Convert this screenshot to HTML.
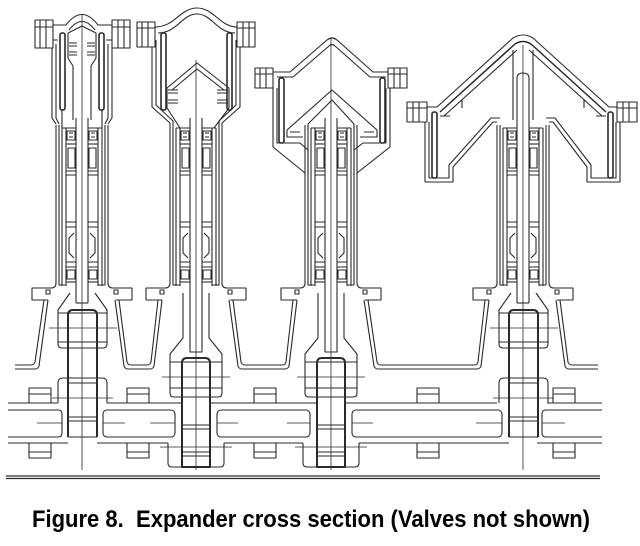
<!DOCTYPE html>
<html><head><meta charset="utf-8">
<style>html,body{margin:0;padding:0;background:#fff;width:640px;height:546px;overflow:hidden}svg{display:block}</style>
</head><body>
<svg width="640" height="546" viewBox="0 0 640 546" xmlns="http://www.w3.org/2000/svg">
<defs>
<g id="rg">
 <rect x="-15" y="131" width="8" height="9"/>
 <path d="M-13,133 H-9 M-13,137 H-9"/>
 <path d="M-16,144 H-6"/>
 <rect x="-14" y="148" width="7" height="20"/>
 <path d="M-16,171 H-6 M-16,175 H-6"/>
 <path d="M-16,222 H-6 M-16,227 H-6"/>
 <path d="M-8,233 L-13,238 V253 L-8,258"/>
 <path d="M-16,262 H-6 M-16,267 H-6"/>
 <rect x="-15" y="270" width="8" height="9"/>
 <path d="M-16,282 H-6"/>
 <path d="M-26,125 V283 Q-26,288 -31,288 H-50 V300 H-34"/>
 <path d="M-23,125 V285 H-16"/>
 <path d="M-20,128 V286 M-16,128 V286 M-20,128 H-6"/>
 <path d="M-6,118 V303"/>
 <rect x="-36" y="290" width="4" height="4"/>
</g>
<g id="lb">
 <use href="#rg"/>
 <use href="#rg" transform="scale(-1,1)"/>
</g>
<g id="cu">
 <path d="M-6,303 H6"/>
 <path d="M-12,293 L-24,310 V344 Q-24,348 -20,348 H21 Q25,348 25,344 V310 L13,293"/>
 <path d="M-24,313 H25 M-24,342 H25"/>
 <path d="M-33,328 H35" stroke-width="0.8"/>
 <path d="M-14,437 V315 Q-14,310 -9,310 H10 Q15,310 15,315 V437" stroke-width="2"/>
 <path d="M-14,437 H15"/>
 <path d="M-24,403 V383 Q-24,378 -19,378 H20 Q25,378 25,383 V403"/>
 <path d="M-30,398 H31" stroke-width="0.8"/>
 <path d="M-14,383 H15 M-14,417 H15 M-14,421 H15"/>
</g>
<g id="cd">
 <path d="M-6,303 V352 H6 V303"/>
 <path d="M-13,293 V338 L-26,354 V393 Q-26,397 -22,397 H22 Q26,397 26,393 V354 L13,338 V293"/>
 <path d="M-26,362 H26 M-26,388 H26"/>
 <path d="M-34,377 H34" stroke-width="0.8"/>
 <path d="M-14,467 V363 Q-14,358 -9,358 H9 Q14,358 14,363 V467 Z" stroke-width="2"/>
 <path d="M-28,443 V463 Q-28,467 -24,467 H24 Q28,467 28,463 V443"/>
 <path d="M-36,447 H36" stroke-width="0.8"/>
 <path d="M-14,425 H14 M-14,429 H14 M-14,452 H14 M-14,456 H14"/>
</g>
<g id="bb">
 <rect x="0" y="388" width="22" height="15"/>
 <path d="M0,394 H22"/>
 <rect x="0" y="443" width="22" height="15"/>
 <path d="M0,452 H22"/>
</g>
</defs>

<g fill="none" stroke="#2a2a2a" stroke-width="1.1" stroke-linejoin="round">
<!-- lower bodies -->
<use href="#lb" transform="translate(82,0)"/>
<use href="#lb" transform="translate(196,0)"/>
<use href="#lb" transform="translate(331,0)"/>
<use href="#lb" transform="translate(523,0)"/>
<!-- cranks -->
<use href="#cu" transform="translate(82,0)"/>
<use href="#cd" transform="translate(196,0)"/>
<use href="#cd" transform="translate(331,0)"/>
<use href="#cu" transform="translate(523,0)"/>

<!-- centerlines -->
<path stroke-width="0.8" d="M82,14 V470 M196,60 V470 M331,38 V470 M523,45 V470"/>

<!-- ===== Cylinder 1 head ===== -->
<rect x="35" y="20" width="18" height="28"/>
<path d="M40,20 V48 M46,20 V48 M35,27 H53"/>
<rect x="112" y="20" width="18" height="28"/>
<path d="M118,20 V48 M124,20 V48 M112,27 H130"/>
<path d="M53,25 H66 Q82,4 98,25 H112"/>
<path d="M69,30 Q82,13 95,30"/>
<path d="M53,40 H58 M106,40 H112"/>
<path d="M52,48 V118 L56,124"/>
<path d="M112,48 V118 L108,124"/>
<path d="M56,44 V118 L59,124"/>
<path d="M108,44 V118 L105,124"/>
<rect x="60" y="33" width="5" height="77" rx="2" stroke-width="1.6"/>
<rect x="99" y="33" width="5" height="77" rx="2" stroke-width="1.6"/>
<path d="M68,33 L82,26 L96,33 V58 L91,66 V120 M68,33 V58 L73,66 V120"/>
<path d="M69,43 H77 M69,46 H77 M69,52 H77 M69,55 H77 M87,43 H95 M87,46 H95 M87,52 H95 M87,55 H95"/>
<path d="M62,110 V128 M102,110 V128"/>

<!-- ===== Cylinder 2 head ===== -->
<rect x="137" y="22" width="18" height="25"/>
<path d="M142,22 V47 M148,22 V47 M137,28 H155"/>
<rect x="237" y="22" width="18" height="25"/>
<path d="M243,22 V47 M249,22 V47 M237,28 H255"/>
<path d="M155,27 C175,27 180,8 197,8 C214,8 220,27 237,27"/>
<path d="M158,33 C177,33 182,14 197,14 C212,14 217,33 235,33"/>
<path d="M152,47 V107 L170,123 V125"/>
<path d="M240,47 V107 L222,123 V125"/>
<path d="M156,40 V105 L173,121 V125"/>
<path d="M236,40 V105 L219,121 V125"/>
<rect x="161" y="33" width="5" height="77" rx="2" stroke-width="1.6"/>
<rect x="227" y="33" width="5" height="77" rx="2" stroke-width="1.6"/>
<path d="M167,108 V88 L197,63 L229,88 V108 L214,128 M167,108 L180,128"/>
<path d="M172,90 L197,69 L224,90"/>
<path d="M168,90 H178 M168,93 H178 M168,100 H178 M168,103 H178 M217,90 H228 M217,93 H228 M217,100 H228 M217,103 H228"/>

<!-- ===== Cylinder 3 head ===== -->
<rect x="255" y="68" width="18" height="20"/>
<path d="M260,68 V88 M266,68 V88 M255,74 H273"/>
<rect x="388" y="68" width="19" height="20"/>
<path d="M394,68 V88 M400,68 V88 M388,74 H407"/>
<path d="M273,72 H290 L327,40 Q332,36 337,40 L373,72 H388"/>
<path d="M277,77 H293 L329,46 Q332,43 335,46 L370,77 H386"/>
<path d="M273,88 V147 L305,173 V175"/>
<path d="M390,88 V147 L357,173 V175"/>
<path d="M277,88 V143 H300 L308,150 V175"/>
<path d="M386,88 V143 H363 L354,150 V175"/>
<rect x="279" y="78" width="5" height="65" rx="2" stroke-width="1.6"/>
<rect x="380" y="78" width="5" height="65" rx="2" stroke-width="1.6"/>
<path d="M287,130 L332,90 L377,130 V137 H360 M287,130 V137 H303"/>
<path d="M308,124 L332,100 L354,124 M308,124 V130 M354,124 V130"/>
<path d="M290,132 H300 M364,132 H374"/>

<!-- ===== Cylinder 4 head ===== -->
<rect x="407" y="102" width="20" height="20"/>
<path d="M413,102 V122 M419,102 V122 M407,108 H427"/>
<rect x="617" y="102" width="20" height="20"/>
<path d="M623,102 V122 M629,102 V122 M617,108 H637"/>
<path d="M427,107 H437 L513,38 Q523,32 533,38 L609,107 H617"/>
<path d="M440,112 L515,44 Q523,39 531,44 L606,112" stroke-width="1.5"/>
<path d="M444,116 L517,50 M529,50 L602,116"/>
<path d="M440,116 H450 M596,116 H606"/>
<path d="M462,100 V108 M584,100 V108"/>
<path d="M425,122 V182 H453 V167 L493,122 H497"/>
<path d="M429,122 V178 H449 V165 L491,118 H500"/>
<path d="M620,122 V182 H587 V167 L553,122 H549"/>
<path d="M616,122 V178 H591 V165 L555,118 H546"/>
<rect x="432" y="112" width="5" height="66" rx="2" stroke-width="1.6"/>
<rect x="608" y="112" width="5" height="66" rx="2" stroke-width="1.6"/>
<path d="M513,50 V120 M533,50 V120"/>
<path d="M517,118 V78 Q517,73 523,73 Q529,73 529,78 V118"/>

<!-- ===== Troughs ===== -->
<path d="M48,300 L39,366 Q38,369 35,369 H15"/>
<path d="M44,300 L35,362 Q34,365 31,365 H15"/>
<path d="M115,300 L124,366 Q125,369 128,369 H150 Q153,369 154,366 L162,300"/>
<path d="M119,300 L127,362 Q128,365 131,365 H147 Q150,365 151,362 L158,300"/>
<path d="M229,300 L238,366 Q239,369 242,369 H285 Q288,369 289,366 L297,300"/>
<path d="M233,300 L241,362 Q242,365 245,365 H282 Q285,365 286,362 L293,300"/>
<path d="M364,300 L374,366 Q375,369 378,369 H477 Q480,369 481,366 L489,300"/>
<path d="M368,300 L377,362 Q378,365 381,365 H474 Q477,365 478,362 L485,300"/>
<path d="M556,300 L565,366 Q566,369 569,369 H598"/>
<path d="M560,300 L568,362 Q569,365 572,365 H598"/>

<!-- ===== Crankshaft ===== -->
<path d="M8,403 H58 M107,403 H182 M210,403 H317 M345,403 H497 M547,403 H602"/>
<path d="M8,443 H68 M97,443 H168 M224,443 H303 M359,443 H509 M537,443 H602"/>
<path d="M8,410 H58 Q62,410 62,414 V433 Q62,437 58,437 H8"/>
<rect x="103" y="410" width="72" height="27" rx="4"/>
<rect x="217" y="410" width="93" height="27" rx="4"/>
<rect x="352" y="410" width="150" height="27" rx="4"/>
<path d="M602,410 H546 Q542,410 542,414 V433 Q542,437 546,437 H602"/>
<path stroke-width="0.8" d="M37,423 H62 M103,423 H125 M150,423 H175 M217,423 H238 M287,423 H310 M352,423 H373 M476,423 H502 M542,423 H565"/>
<use href="#bb" transform="translate(29,0)"/>
<use href="#bb" transform="translate(127,0)"/>
<use href="#bb" transform="translate(254,0)"/>
<use href="#bb" transform="translate(417,0)"/>
<use href="#bb" transform="translate(553,0)"/>

<!-- base line -->
<path d="M6,476 H600 M6,478.5 H600" stroke-width="1.2"/>
</g>

<text x="32" y="527" font-family="'Liberation Sans', Arial, sans-serif" font-weight="bold" font-size="24" textLength="558" lengthAdjust="spacingAndGlyphs" fill="#000" xml:space="preserve">Figure 8.  Expander cross section (Valves not shown)</text>
</svg>
</body></html>
